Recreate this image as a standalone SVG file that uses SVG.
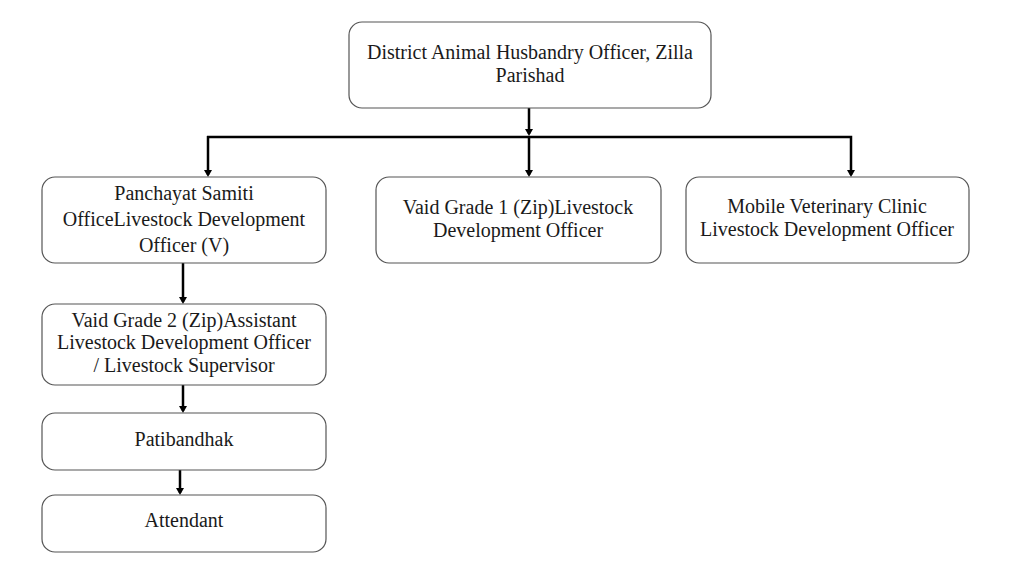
<svg xmlns="http://www.w3.org/2000/svg" width="1024" height="576" viewBox="0 0 1024 576">
<style>
.box{fill:#fff;stroke:#555;stroke-width:1.2}
.t{font-family:"Liberation Serif","Times New Roman",serif;font-size:20px;fill:#1a1a1a;text-anchor:middle}
.c{fill:none;stroke:#000;stroke-width:2.5}
</style>
<defs>
<marker id="ah" markerWidth="8" markerHeight="8" refX="5" refY="4" orient="auto" markerUnits="userSpaceOnUse">
<path d="M0,0 L7,4 L0,8 z" fill="#000"/>
</marker>
</defs>
<rect width="1024" height="576" fill="#fff"/>
<g id="connectors">
<line class="c" x1="529" y1="108" x2="529" y2="134" marker-end="url(#ah)"/>
<polyline class="c" points="207,137 851,137 851,175" marker-end="url(#ah)"/>
<line class="c" x1="208" y1="136" x2="208" y2="175" marker-end="url(#ah)"/>
<line class="c" x1="529" y1="137" x2="529" y2="175" marker-end="url(#ah)"/>
<line class="c" x1="183" y1="263" x2="183" y2="302" marker-end="url(#ah)"/>
<line class="c" x1="183" y1="385" x2="183" y2="411" marker-end="url(#ah)"/>
<line class="c" x1="180" y1="470" x2="180" y2="493" marker-end="url(#ah)"/>
</g>
<g id="n-district">
<rect class="box" x="349" y="22" width="362" height="86" rx="13"/>
<text class="t" x="530" y="59">District Animal Husbandry Officer, Zilla</text>
<text class="t" x="530" y="82">Parishad</text>
</g>
<g id="n-panchayat">
<rect class="box" x="42" y="177" width="284" height="86" rx="13"/>
<text class="t" x="184" y="200">Panchayat Samiti</text>
<text class="t" x="184" y="226">OfficeLivestock Development</text>
<text class="t" x="184" y="252">Officer (V)</text>
</g>
<g id="n-vaid1">
<rect class="box" x="376" y="177" width="285" height="86" rx="13"/>
<text class="t" x="518" y="214">Vaid Grade 1 (Zip)Livestock</text>
<text class="t" x="518" y="237">Development Officer</text>
</g>
<g id="n-mobile">
<rect class="box" x="686" y="177" width="283" height="86" rx="13"/>
<text class="t" x="827" y="213">Mobile Veterinary Clinic</text>
<text class="t" x="827" y="236">Livestock Development Officer</text>
</g>
<g id="n-vaid2">
<rect class="box" x="42" y="304" width="284" height="81" rx="13"/>
<text class="t" x="184" y="327">Vaid Grade 2 (Zip)Assistant</text>
<text class="t" x="184" y="349">Livestock Development Officer</text>
<text class="t" x="184" y="372">/ Livestock Supervisor</text>
</g>
<g id="n-pati">
<rect class="box" x="42" y="413" width="284" height="57" rx="13"/>
<text class="t" x="184" y="446">Patibandhak</text>
</g>
<g id="n-attendant">
<rect class="box" x="42" y="495" width="284" height="57" rx="13"/>
<text class="t" x="184" y="527">Attendant</text>
</g>
</svg>
